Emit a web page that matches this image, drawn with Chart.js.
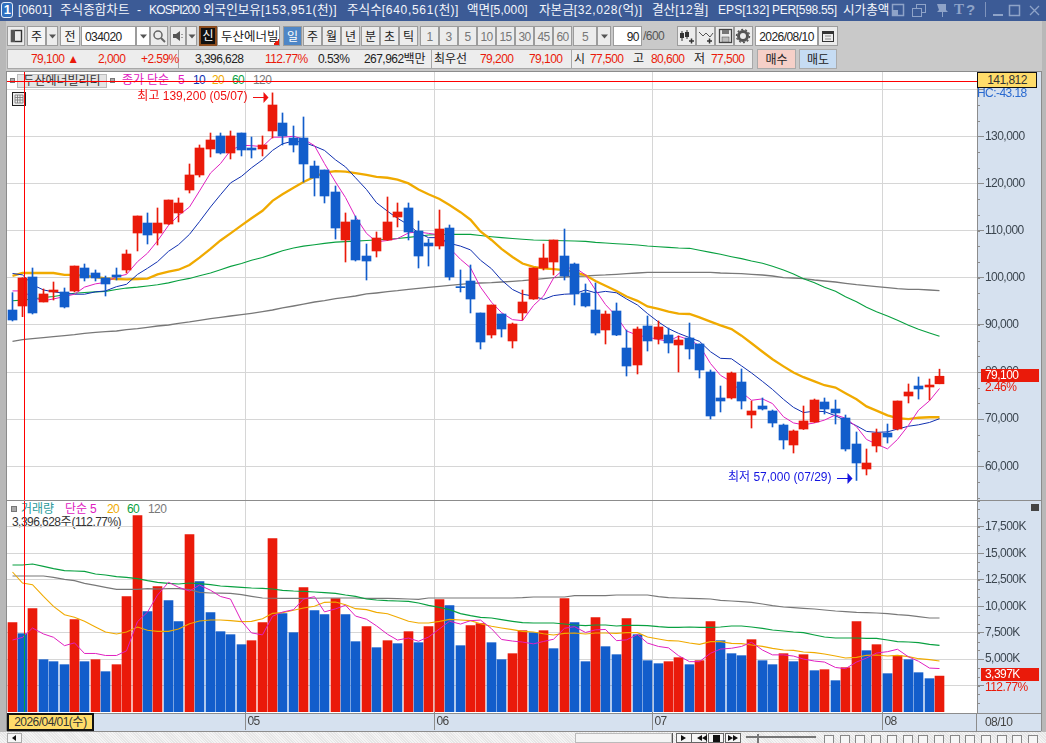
<!DOCTYPE html>
<html lang="ko">
<head>
<meta charset="utf-8">
<title>주식종합차트</title>
<script src="https://cdn.jsdelivr.net/npm/chart.js@4"></script>
<style>
  html, body { margin: 0; padding: 0; background: #c9c9c9; overflow: hidden; }
  body { width: 1046px; height: 743px; position: relative;
         font: 12px "Liberation Sans", "Noto Sans CJK KR", sans-serif; color: #222; }
  .a { position: absolute; white-space: nowrap; box-sizing: border-box; }
  .b { border: 1px solid #9c9c9c; background: #ececec; text-align: center; }
  canvas { position: absolute; }
  svg { position: absolute; }
</style>
</head>
<body>
<div id="ui"></div>
<canvas id="priceChart" style="left:7px;top:72px;z-index:5"></canvas>
<canvas id="volumeChart" style="left:7px;top:500px;z-index:5"></canvas>
<div id="top"></div>
<script>
var opens = [93150,94000,100150,94850,96970,96970,97180,102060,101000,99940,100580,101640,109480,111600,109480,111390,113730,118600,121790,127300,130060,126450,130690,127510,127300,131120,132810,129630,129630,123690,122850,118180,108000,112240,104600,105670,108000,112880,114790,109910,107360,106730,110540,98100,99300,92520,87850,92300,86580,92520,95480,102060,103330,104600,102910,96760,93150,88910,92940,85090,81490,89760,86990,87850,85730,87210,85940,80000,74490,74490,77880,70880,72790,71730,68760,64520,67910,69400,73640,72150,70240,64730,59430,64310,67060,67910,74910,77030,76820,77500];
var closes = [91030,99940,92520,96550,97390,93790,102480,99940,99940,98670,100150,105030,113090,109060,111600,116480,115850,121790,127510,129210,126450,130060,127090,127090,128150,136630,130060,128150,124120,121150,117330,110540,111820,103760,103540,108420,111820,113940,109700,104600,106730,110330,100150,97890,95480,86360,94210,89120,90180,94850,102060,104180,108000,100360,96550,94000,88270,92300,87850,81270,89120,86580,89550,86150,86790,84880,80430,70670,73850,79790,73850,71730,72150,69180,65580,67490,69610,74060,72150,71310,63670,60700,60700,67060,66210,73850,75760,76400,77240,79100];
var highs = [96830,100000,102060,97610,99090,97820,102480,102910,101640,100360,102060,105880,113090,113730,114790,116480,116910,124120,128150,130690,130690,131120,130690,129840,130060,139200,134940,132180,134090,124750,122850,119450,113730,113090,107150,109700,117120,115850,115850,112030,108210,114360,111180,101640,102700,92520,94210,92300,90390,97390,102060,107150,108000,110330,103120,98670,98880,92940,94640,88910,89550,91880,90820,89330,87640,90390,85940,80430,77030,80000,80640,73850,74490,71940,68970,67700,72790,74270,74490,74060,70880,67280,63670,67910,68970,73850,77460,78940,78520,80600];
var lows = [90820,91740,92300,94850,95270,93580,97000,99300,99300,96120,99510,101000,105670,107150,106940,111300,111820,117970,121360,125600,126240,125180,125820,125390,125820,129630,128150,126660,120300,117330,115850,108210,103330,103540,99510,104390,107900,110760,108000,102060,102480,106090,99510,96970,92520,84880,87210,87420,85090,91030,95400,101640,100580,99510,94210,93790,87850,85940,87700,79150,79580,84450,85940,84030,80000,82760,78730,70030,71520,74270,72150,68120,71940,68340,63670,62820,67800,69300,71090,68970,63250,57000,58160,63030,64940,67700,73430,74270,74060,77500];

var priceMa5 = [97200,97200,95800,95100,95500,96000,96500,98000,98700,99000,100200,100700,103400,105200,107800,111100,113200,115000,118400,122200,124200,127000,128100,128000,127800,129800,129800,130000,129400,128000,124200,120300,117000,112900,109400,107600,107900,108300,109500,109700,109400,109100,106300,103900,102100,98000,94800,92600,91100,90900,94100,96100,99900,101900,102200,100600,97400,94300,91800,88700,87800,87400,86900,86500,87600,86800,85600,81800,79300,77900,75700,74000,74300,73300,70500,69200,68800,69200,69800,70900,70200,68400,65700,64700,63700,65700,68700,71900,73900,76500];
var priceMa10 = [100900,100600,98500,97400,97000,96700,96500,96500,97000,97200,98100,98600,100700,102000,103400,105600,107000,109200,111900,115000,117600,120100,121500,123300,125000,127000,128400,129000,128700,127900,127000,125000,123500,121200,118700,115900,114100,112600,111200,109500,108500,108500,107300,106700,105900,103700,101900,99500,97500,96500,96100,95400,96200,96500,96600,97400,96800,97100,96800,95500,94200,92400,90600,89200,88200,87300,86500,84300,82900,82800,81300,79800,78000,76300,74200,72500,71400,71700,71600,70700,69700,68600,67400,67200,67300,67900,68500,68800,69300,70100];
var priceMa20 = [100400,101000,101000,101000,101000,100600,100600,100400,100150,99870,99730,99650,99730,99800,100700,101300,101700,102700,104250,106100,107900,109400,111100,112600,114200,116300,117700,119100,120300,121400,122300,122600,122500,122200,121800,121400,121200,120800,120000,118700,117700,116700,115400,113900,112300,109800,108000,106100,104400,103000,102300,102000,101800,101600,101200,100500,99300,98300,97200,96000,95100,93900,93400,92800,92400,92300,91600,90700,89900,89100,87700,86100,84300,82700,81200,79900,78900,78000,77200,76700,75500,74200,72700,71800,70800,70200,70000,70300,70400,70400];
var priceMa60 = [95100,95250,95500,95800,96000,96400,96700,96850,97000,97100,97500,97800,98000,98250,98500,98900,99400,99850,100400,101000,101700,102400,103000,103700,104300,105000,105700,106300,106700,107000,107280,107550,107650,107750,107880,108000,108150,108300,108550,108800,109050,109150,109180,109200,109200,108950,108700,108500,108300,108150,108000,107930,107900,107850,107800,107700,107500,107350,107200,107100,106940,106730,106580,106440,106300,106230,105810,105380,104960,104460,104040,103540,103050,102410,101640,100790,99800,98950,97960,97110,95980,94920,93720,92800,91880,90960,89900,89050,88270,87570];
var priceMa120 = [86500,86860,87070,87280,87500,87700,87920,88200,88420,88560,88700,88980,89190,89480,89760,89970,90320,90610,90960,91310,91600,91880,92160,92440,92800,93150,93580,94000,94420,94850,95130,95560,95840,96120,96550,96760,97040,97250,97540,97750,97960,98170,98380,98600,98810,98880,98950,99090,99230,99370,99590,99800,100010,100150,100290,100360,100500,100580,100720,100860,101000,101140,101140,101140,101140,101140,101140,101140,101000,100930,100860,100720,100570,100360,100010,99940,99800,99510,99300,99090,98810,98520,98310,98100,97890,97680,97530,97530,97390,97250];

var volumes = [8450,7410,9774,4950,4761,4477,8734,4761,4950,3815,4477,10909,18571,9491,11855,10531,8545,16774,12328,9396,7599,7315,6369,6747,8450,16396,9301,7504,11761,9585,9207,10720,9207,6653,8072,6085,6747,6464,7599,6558,8072,10626,10058,6274,8166,8355,6558,4950,5518,7693,7504,7693,5991,10720,8450,4761,8923,6180,5423,8828,7315,4856,4572,4761,5139,4477,4856,8545,6747,5518,5329,6842,4856,4477,5518,4761,5423,3910,4004,2964,4193,8545,5802,6369,3626,5329,4950,3720,3153,3397];
var volMa5 = [6810,7060,7945,7380,7069,6274,6539,5537,5537,5347,5347,5782,8544,9453,11061,12271,11799,11439,12007,11515,10928,10682,8601,7485,7296,9055,9453,9680,10682,10909,9472,9755,10096,9074,8772,8147,7353,6804,6993,6691,7088,7864,8583,8318,8639,8696,7882,6861,6709,6615,6445,6672,6880,7920,8072,7523,7769,7807,6747,6823,7334,6520,6199,6066,5329,4761,4761,5556,5953,6029,6199,6596,5858,5404,5404,5291,5007,4818,4723,4212,4099,4723,5102,5575,5707,5934,5215,4799,4156,4110];
var volMa20 = [13243,12200,12044,10941,9995,9207,8955,8576,8040,7567,7378,7567,8040,7725,7630,7630,7851,8356,8608,8702,8702,8640,8545,8576,8828,9333,9396,9617,9837,9995,10373,10405,10153,9774,9680,9427,9301,8955,8576,8418,8418,8576,8765,8702,8640,8355,8103,7945,7788,7630,7567,7409,7283,7441,7472,7378,7472,7472,7441,7504,7504,7094,6905,6747,6716,6527,6400,6653,6653,6495,6464,6337,6211,6022,5865,5833,5675,5612,5486,5297,5108,5171,5360,5392,5297,5360,5234,5045,4950,4824];
var volMa60 = [13905,13905,14000,13779,13558,13369,13337,13306,13054,12959,12801,12738,12612,12423,12265,12170,12107,12202,12139,12044,11918,11855,11792,11729,11698,11635,11509,11446,11414,11351,11288,11225,11067,10941,10689,10594,10531,10500,10468,10310,10090,9900,9680,9301,9112,8955,8892,8734,8576,8450,8418,8418,8418,8324,8229,8166,8229,8229,8135,8198,8198,8166,8072,8009,8009,8040,8009,8009,8040,8135,8135,8040,7914,7756,7662,7567,7504,7283,7094,7000,7000,7000,6968,6968,6810,6653,6621,6558,6400,6306];
var volMa120 = [12864,12864,12864,12864,12738,12549,12423,12170,11981,11792,11603,11603,11603,11666,11635,11666,11666,11571,11319,11256,11240,11225,11099,10941,10783,10760,10752,10752,10752,10760,10783,10783,10783,10783,10752,10752,10752,10720,10689,10657,10783,10783,10783,10783,10783,10783,10783,10783,10783,10815,10878,10878,10878,10878,11004,11004,11004,11004,11067,11067,11067,11067,10909,10815,10783,10752,10720,10689,10562,10500,10436,10373,10216,10058,9932,9869,9806,9743,9648,9554,9490,9428,9396,9364,9301,9207,9144,9018,8892,8892];

var priceTicks = [60000,70000,80000,90000,100000,110000,120000,130000,140000];
var volumeTicks = [2500,5000,7500,10000,12500,15000,17500];
var monthBreaks = [22.45,40.5,61.5,83.5];
var monthLabels = ["05","06","07","08"];
var crossIdx = 1.16, crossPrice = 141812;

var RED = "#ea1a0a", BLUE = "#125dcb", MAG = "#e020c0", NAVY = "#1030b0", ORG = "#f0aa00", GRN = "#08a040", GRY = "#787878";
var AXIS = "#8c8c8c", GRID = "#d6d6d6", PANEL = "#d6e1ef", LABEL = "#3c4650";
var FONT = '"Liberation Sans", "Noto Sans CJK KR", sans-serif';
var xMin = -0.4846, xMax = 92.605;

//latin and digits run tighter than hangul in the original
function runs(el, text, latinCss, koCss) {
  text.split(/([\uAC00-\uD7A3]+)/).forEach(function (part) {
    if (!part) return;
    var s = document.createElement("span");
    s.style.cssText = /[\uAC00-\uD7A3]/.test(part) ? (koCss || "") : (latinCss === undefined ? "letter-spacing:-0.55px" : latinCss);
    s.textContent = part;
    el.appendChild(s);
  });
}
function box(parent, x, y, w, h, text, css, cls) {
  var d = document.createElement("div");
  d.className = "a " + (cls || "");
  d.style.cssText = "left:" + x + "px;top:" + y + "px;width:" + w + "px;height:" + h + "px;line-height:" + h + "px;" + (css || "");
  if (text) runs(d, text);
  parent.appendChild(d);
  return d;
}
function txt(parent, x, y, text, color, css) {
  var d = document.createElement("div");
  d.className = "a";
  d.style.cssText = "left:" + x + "px;top:" + (y - 9) + "px;height:18px;line-height:18px;color:" + (color || "#222") + ";" + (css || "");
  runs(d, text);
  parent.appendChild(d);
  return d;
}
function icon(parent, x, y, w, h, inner) {
  var d = document.createElement("div");
  d.innerHTML = '<svg style="left:' + x + 'px;top:' + y + 'px" width="' + w + '" height="' + h + '" viewBox="0 0 ' + w + ' ' + h + '">' + inner + "</svg>";
  parent.appendChild(d);
}

var ui = document.getElementById("ui");
var top2 = document.getElementById("top");
top2.style.cssText = "position:absolute;left:0;top:0;z-index:6";

// title bar
box(ui, 0, 0, 1046, 21, "", "background:#3c5b96");
box(ui, 1, 2, 12, 16, "1", "background:#2f6fc0;border:1px solid #e8eef8;border-radius:3px;color:#fff;text-align:center;font:bold 13px/14px 'Liberation Sans'");
var titleParts = [[18, "[0601]", 0.1], [60, "주식종합차트", 0.1], [137, "-", 0.1], [149, "KOSPI200", -0.8], [203, "외국인보유[153,951(천)]", 0.6], [347, "주식수[640,561(천)]", 0.7],
  [467, "액면[5,000]", 0.1], [539, "자본금[32,028(억)]", 0.6], [652, "결산[12월]", 0.4], [718, "EPS[132]", 0.1], [772, "PER[598.55]", -0.3], [843, "시가총액", 0]];
titleParts.forEach(function (p) {
  var d = document.createElement("div");
  d.className = "a";
  d.style.cssText = "left:" + p[0] + "px;top:1px;height:18px;line-height:18px;color:#f4f6fb";
  runs(d, p[1], "letter-spacing:" + p[2] + "px", "font-size:12.6px");
  ui.appendChild(d);
});
var tb = "#8ea3c8";
icon(ui, 891, 3, 150, 15,
  '<rect x="1.5" y="1.5" width="11" height="11" fill="none" stroke="' + tb + '" stroke-width="1.5"/><rect x="1" y="7" width="6" height="6" fill="' + tb + '"/>' +
  '<rect x="25.5" y="1.5" width="9" height="8" fill="none" stroke="' + tb + '"/><rect x="21.5" y="5.5" width="9" height="8" fill="#3c5b96" stroke="' + tb + '"/>' +
  '<path d="M46 1h9v6l2 2h-5v5h-1v-5h-5l2-2z" fill="' + tb + '"/>' +
  '<rect x="102" y="11" width="10" height="2" fill="' + tb + '"/><rect x="118.5" y="2.5" width="10" height="10" fill="none" stroke="' + tb + '" stroke-width="1.5"/>' +
  '<path d="M139 3l9 9M148 3l-9 9" stroke="' + tb + '" stroke-width="1.3"/>');
txt(ui, 954, 10, "T", tb, "font:bold 15px 'Liberation Serif'");
txt(ui, 966, 10, "?", tb, "font:bold 15px 'Liberation Sans'");
box(ui, 985, 2, 1, 15, "", "background:#7f94bd");

// toolbar row 1
function btn(x, w, text, css) { return box(ui, x, 26, w, 20, text, css, "b"); }
function arrowBtn(x, w, css) {
  btn(x, w, "", css);
  icon(ui, x, 26, w, 20, '<path d="M' + (w / 2 - 3) + ' 8.5h7l-3.5 4z" fill="#555"/>');
}
btn(7, 18, "");
icon(ui, 7, 26, 18, 20, '<rect x="4.5" y="4.5" width="10" height="11" fill="none" stroke="#333" stroke-width="1.4"/><rect x="4" y="4" width="4" height="12" fill="#555"/>');
btn(27, 19, "주", "background:#f4f4f4");
arrowBtn(46, 12);
btn(60, 20, "전", "background:#f4f4f4");
btn(81, 55, "034020", "background:#fff;text-align:left;padding-left:3px");
arrowBtn(136, 14, "background:#fff");
btn(150, 18, "");
icon(ui, 150, 26, 18, 20, '<circle cx="8" cy="9" r="4" fill="none" stroke="#666" stroke-width="1.5"/><path d="M11 12l4 4" stroke="#666" stroke-width="2"/>');
btn(170, 16, "");
icon(ui, 170, 26, 16, 20, '<path d="M3 8h3l4-3v10l-4-3H3z" fill="#555"/><path d="M12 8v1M12 11v1" stroke="#555"/>');
arrowBtn(186, 11);
box(ui, 199, 26, 18, 20, "신", "background:#111;color:#fff;border:2px solid #8a4a1c;text-align:center;line-height:16px");
box(ui, 217, 26, 63, 20, "두산에너빌", "background:#fff;border:1px solid #999;padding-left:3px;font-size:12.5px");
box(ui, 273, 39, 6, 6, "", "background:linear-gradient(135deg,transparent 50%," + RED + " 50%)");
btn(283, 19, "일", "background:#4f86c6;color:#fff");
btn(303, 19, "주");
btn(322, 19, "월");
btn(341, 19, "년");
btn(361, 19, "분");
btn(380, 19, "초");
btn(399, 19, "틱");
var minuteBtns = ["1", "3", "5", "10", "15", "30", "45", "60"];
for (var m = 0; m < minuteBtns.length; m++) btn(420 + m * 19, 19, minuteBtns[m], "color:#777");
btn(573, 24, "5", "color:#777");
arrowBtn(597, 14);
btn(613, 29, "90", "background:#fff;text-align:right;padding-right:2px");
txt(ui, 643, 36, "/600", "#555");
for (var k = 0; k < 4; k++) btn(677 + k * 19, 19, "");
icon(ui, 677, 26, 76, 20,
  '<path d="M5 5v10M10 4v9" stroke="#333"/><rect x="3" y="7" width="4" height="5" fill="#333"/><rect x="8" y="6" width="4" height="5" fill="#333"/><path d="M12 15h5M14.5 12.5v5" stroke="#333" stroke-width="1.5"/>' +
  '<path d="M22 6l4 4 3-3 4 4 3-4" fill="none" stroke="#555"/><path d="M30 15h5M32.5 12.5v5" stroke="#333" stroke-width="1.5"/>' +
  '<rect x="42.5" y="3.5" width="12" height="13" fill="none" stroke="#444" stroke-width="1.3"/><rect x="45" y="4" width="7" height="4" fill="#777"/><rect x="45" y="11" width="7" height="5" fill="#bbb" stroke="#444" stroke-width=".5"/>' +
  '<circle cx="66" cy="10" r="4.5" fill="none" stroke="#555" stroke-width="3"/><circle cx="66" cy="10" r="6.5" fill="none" stroke="#555" stroke-width="1.4" stroke-dasharray="2 2"/>');
btn(755, 63, "2026/08/10", "background:#fff");
btn(818, 20, "");
icon(ui, 818, 26, 20, 20, '<rect x="4.5" y="5.5" width="11" height="10" fill="none" stroke="#333"/><rect x="4" y="5" width="12" height="3" fill="#333"/><path d="M7 10h6M7 13h6" stroke="#888"/>');

// toolbar row 2
box(ui, 7, 49, 746, 20, "", "background:#ededed;border:1px solid #a8a8a8");
[178, 431, 571].forEach(function (x) { box(ui, x, 49, 1, 20, "", "background:#a8a8a8"); });
[[31, "79,100 ▲", RED], [98, "2,000", RED], [141, "+2.59%", RED], [195, "3,396,628", "#222"], [265, "112.77%", RED],
 [318, "0.53%", "#222"], [364, "267,962백만", "#222"], [434, "최우선", "#222"], [480, "79,200", RED], [529, "79,100", RED],
 [574, "시", "#222"], [590, "77,500", RED], [633, "고", "#222"], [651, "80,600", RED], [694, "저", "#222"], [711, "77,500", RED]
].forEach(function (r) { txt(ui, r[0], 59, r[1], r[2]); });
box(ui, 757, 49, 39, 20, "매수", "background:#f6d0c8;border:1px solid #aaa;text-align:center");
box(ui, 799, 49, 38, 20, "매도", "background:#c6dcf3;border:1px solid #aaa;text-align:center");

// chart panels
box(ui, 0, 21, 6, 722, "", "background:#b8b8b8");
box(ui, 1042, 21, 4, 722, "", "background:#b8b8b8");
box(ui, 7, 72, 970, 641, "", "background:#fff");
box(ui, 977, 72, 64, 659, "", "background:" + PANEL);
box(ui, 7, 713, 970, 18, "", "background:" + PANEL);
box(ui, 7, 71, 1034, 1, "", "background:#8c8c8c");
box(ui, 6, 71, 1, 660, "", "background:#8c8c8c");
box(ui, 1041, 71, 1, 660, "", "background:#8c8c8c");

// price legend (sits under the crosshair)
box(ui, 17, 74, 90, 14, "두산에너빌리티", "background:#e4e4e4;border:1px solid #bbb;text-align:center;line-height:12px;color:#333");
box(ui, 10, 78, 5, 5, "", "background:#aaa;border:1px solid #777");
box(ui, 110, 78, 5, 5, "", "background:#aaa;border:1px solid #777");
txt(ui, 122, 80, "종가 단순", MAG);
txt(ui, 178, 80, "5", MAG);
txt(ui, 193, 80, "10", NAVY);
txt(ui, 212, 80, "20", ORG);
txt(ui, 232, 80, "60", GRN);
txt(ui, 253, 80, "120", GRY);
icon(ui, 12, 92, 14, 14, '<rect x=".5" y=".5" width="13" height="13" fill="#eee" stroke="#222"/><path d="M3 3h8v8H3zM3 5.5h8M3 8h8M5.5 3v8M8 3v8" fill="none" stroke="#777" stroke-width=".8"/>');

// volume legend
box(ui, 11, 506, 6, 6, "", "background:#aaa;border:1px solid #777");
txt(ui, 21, 509, "거래량", "#2a9a9a");
txt(ui, 65, 509, "단순 5", MAG);
txt(ui, 107, 509, "20", ORG);
txt(ui, 127, 509, "60", GRN);
txt(ui, 148, 509, "120", GRY);
txt(ui, 12, 522, "3,396,628주(112.77%)", "#333");

// axis side boxes
box(top2, 7, 500, 1034, 1, "", "background:#8c8c8c");
box(top2, 7, 713, 970, 1, "", "background:#8c8c8c");
box(top2, 977, 72, 60, 16, "141,812", "background:#ffdc6a;border:1px solid #111;text-align:center;line-height:14px;color:#333");
txt(top2, 977, 93, "HC:-43.18", "#2a6ad0");
box(top2, 981, 369, 58, 13, "79,100", "background:" + RED + ";color:#fff;padding-left:4px;line-height:13px");
txt(top2, 985, 387, "2.46%", RED);
box(top2, 981, 668, 58, 13, "3,397K", "background:" + RED + ";color:#fff;padding-left:4px;line-height:13px");
txt(top2, 985, 687, "112.77%", RED);
box(top2, 1031, 504, 8, 7, "", "background:#444");
box(top2, 7, 713, 87, 18, "2026/04/01(수)", "background:#ffdc6a;border:2px solid #111;text-align:center;line-height:14px;color:#333");
box(ui, 977, 731, 64, 1, "", "background:#8c8c8c");
box(ui, 7, 731, 970, 1, "", "background:#8c8c8c");
box(top2, 977, 713, 64, 1, "", "background:#8c8c8c");
txt(top2, 985, 722, "08/10", "#444");
box(top2, 976, 713, 1, 18, "", "background:#8c8c8c");

// bottom scroll strip
box(ui, 0, 732, 1046, 11, "", "background:repeating-linear-gradient(45deg,#f4f4f4 0 1px,#e6e6e6 1px 2px)");
box(ui, 7, 733, 15, 10, "", "background:#f6f6f6;border:1px solid #aaa");
icon(ui, 7, 733, 15, 10, '<path d="M9 2v6L5 5z" fill="#111"/>');
box(ui, 575, 733, 97, 10, "", "background:#f4f4f4;border:1px solid #bbb");
box(ui, 672, 733, 1, 10, "", "background:#555");
[676, 691, 708, 725].forEach(function (x) { box(ui, x, 733, 16, 10, "", "background:#f6f6f6;border:1px solid #666"); });
icon(ui, 676, 733, 66, 10, '<path d="M5 2l5 3-5 3zM26 2v6l-5-3zM31 2v6l-5-3z" fill="#111"/><rect x="37" y="2" width="7" height="7" fill="#111"/><path d="M52 2l5 3-5 3zM57 2l5 3-5 3z" fill="#111"/>');
box(ui, 746, 736, 70, 2, "", "background:#777");
box(ui, 757, 734, 2, 9, "", "background:#777");
for (var n = 0; n < 14; n++) box(ui, 824 + n * 15.7, 735, 10, 8, "", "border:1px solid #888;border-bottom:none;background:#f6f6f6");

// candles and lines use the same x positions, snapped to whole pixels like the original
function snapX(scale) {
  if (scale._snapped) return;
  var f = scale.getPixelForValue.bind(scale);
  scale.getPixelForValue = function (v) { return Math.floor(f(v)) + 0.5; };
  scale._snapped = true;
}
function fixBox(w, h) {
  return function (scale) {
    if (w !== null) scale.width = w;
    if (h !== null) scale.height = h;
    scale.paddingTop = scale.paddingBottom = scale.paddingLeft = scale.paddingRight = 0;
  };
}
function series(values) { return values.map(function (v, i) { return { x: i, y: v }; }); }
function line(values, color, width, order) {
  return { type: "line", data: series(values), borderColor: color, borderWidth: width, pointRadius: 0, tension: 0, order: order };
}

//minor axis marks, crosshair and the high/low notes
var panelMarks = {
  id: "panelMarks",
  beforeDraw: function (chart) { chart.ctx.letterSpacing = "-0.55px"; },
  afterDraw: function (chart, args, o) {
    var c = chart.ctx, a = chart.chartArea, xs = chart.scales.x, ys = chart.scales.y;
    c.save();
    c.letterSpacing = "0px";
    c.fillStyle = AXIS;
    o.minor.forEach(function (v) {
      var p = ys.getPixelForValue(v);
      if (p > a.top && p < a.bottom) c.fillRect(a.right, Math.round(p), 3, 1);
    });
    var cx = xs.getPixelForValue(crossIdx) - 0.5;
    c.fillStyle = "#ff0000";
    if (o.crossValue) {
      c.fillRect(a.left, Math.round(ys.getPixelForValue(o.crossValue)), a.right - a.left, 1);
      c.fillRect(cx, a.top, 1, a.bottom - a.top);
    } else {
      var vt = Math.round(ys.getPixelForValue(volumes[1]));
      c.fillRect(cx, a.top, 1, vt - a.top);
      c.fillStyle = GRN;
      c.fillRect(cx, vt, 1, a.bottom - vt);
    }
    (o.notes || []).forEach(function (n) {
      var px = xs.getPixelForValue(n.idx), py = ys.getPixelForValue(n.value) + n.dy;
      c.fillStyle = n.color;
      c.fillRect(px - 19.5, Math.round(py), 11, 1);
      c.beginPath();
      c.moveTo(px - 4, Math.round(py) + 0.5);
      c.lineTo(px - 9, Math.round(py) - 5);
      c.lineTo(px - 9, Math.round(py) + 6);
      c.closePath();
      c.fill();
      c.font = "12px " + FONT;
      c.textAlign = "right";
      c.textBaseline = "middle";
      c.fillText(n.text, px - 25, Math.round(py));
    });
    c.restore();
  }
};

function minorTicks(step, from, to) {
  var out = [];
  for (var v = from; v <= to; v += step) out.push(v);
  return out;
}

function xAxis(height, showLabels) {
  return {
    type: "linear", min: xMin, max: xMax, offset: false,
    afterFit: fixBox(null, height),
    afterUpdate: snapX,
    afterBuildTicks: function (s) { s.ticks = monthBreaks.map(function (v) { return { value: v }; }); },
    border: { display: false },
    grid: { color: GRID, offset: false, drawTicks: showLabels, tickLength: 18, tickColor: AXIS },
    ticks: {
      display: showLabels, autoSkip: false, maxRotation: 0, align: "start", padding: -16, labelOffset: 2,
      color: "#444", font: { family: FONT, size: 12 },
      callback: function (v, i) { return monthLabels[i]; }
    }
  };
}
function yAxis(min, max, ticks, fmt) {
  return {
    position: "right", min: min, max: max,
    afterFit: fixBox(64, null),
    afterBuildTicks: function (s) { s.ticks = ticks.map(function (v) { return { value: v }; }); },
    border: { color: AXIS },
    grid: { color: GRID, tickColor: AXIS, tickLength: 7 },
    ticks: { color: LABEL, padding: 1, crossAlign: "near", font: { family: FONT, size: 12 }, callback: fmt }
  };
}
var baseOptions = {
  responsive: false, animation: false, events: [],
  layout: { padding: 0 }
};
function options(x, y, marks) {
  return Object.assign({}, baseOptions, {
    scales: { x: x, y: y },
    plugins: { legend: { display: false }, tooltip: { enabled: false }, panelMarks: marks }
  });
}
function sizeCanvas(id, w, h) {
  var el = document.getElementById(id);
  el.width = w; el.height = h;
  el.style.width = w + "px"; el.style.height = h + "px";
  return el;
}

var isUp = function (i) { return closes[i] >= opens[i]; };

new Chart(sizeCanvas("priceChart", 1034, 428), {
  type: "bar",
  data: {
    datasets: [
      { data: opens.map(function (v, i) { return { x: i, y: [v, closes[i]] }; }), barThickness: 9, grouped: false, order: 1,
        backgroundColor: opens.map(function (v, i) { return isUp(i) ? RED : BLUE; }) },
      { data: lows.map(function (v, i) { return { x: i, y: [v, highs[i]] }; }), barThickness: 1, grouped: false, order: 2,
        backgroundColor: lows.map(function (v, i) { return isUp(i) ? RED : BLUE; }) },
      line(priceMa5, MAG, 1, 3),
      line(priceMa10, NAVY, 1, 4),
      line(priceMa20, ORG, 2.3, 5),
      line(priceMa60, GRN, 1.1, 6),
      line(priceMa120, GRY, 1.3, 7)
    ]
  },
  options: options(xAxis(0, false), yAxis(52852, 143630, priceTicks, function (v) {
    return v >= 140000 ? "" : v.toLocaleString("en-US");
  }), {
    minor: minorTicks(3333, 53333, 143000),
    crossValue: crossPrice,
    notes: [
      { idx: 25, value: 139200, dy: 4, color: "#f01010", text: "최고 139,200 (05/07)" },
      { idx: 81, value: 57000, dy: -2, color: "#1414e0", text: "최저 57,000 (07/29)" }
    ]
  }),
  plugins: [panelMarks]
});

new Chart(sizeCanvas("volumeChart", 1034, 231), {
  type: "bar",
  data: {
    datasets: [
      line(volMa5, MAG, 1, 0),
      line(volMa20, ORG, 1.1, 0),
      line(volMa60, GRN, 1.2, 0),
      line(volMa120, GRY, 1.2, 0),
      { data: series(volumes), barThickness: 9, grouped: false, order: 1,
        backgroundColor: volumes.map(function (v, i) { return i === 0 || v >= volumes[i - 1] ? RED : BLUE; }) }
    ]
  },
  options: options(xAxis(19, true), yAxis(0, 20053, volumeTicks, function (v) {
    return v <= 2500 ? "" : v.toLocaleString("en-US") + "K";
  }), { minor: minorTicks(833.33, 833.33, 20000) }),
  plugins: [panelMarks]
});
</script>
</body>
</html>
